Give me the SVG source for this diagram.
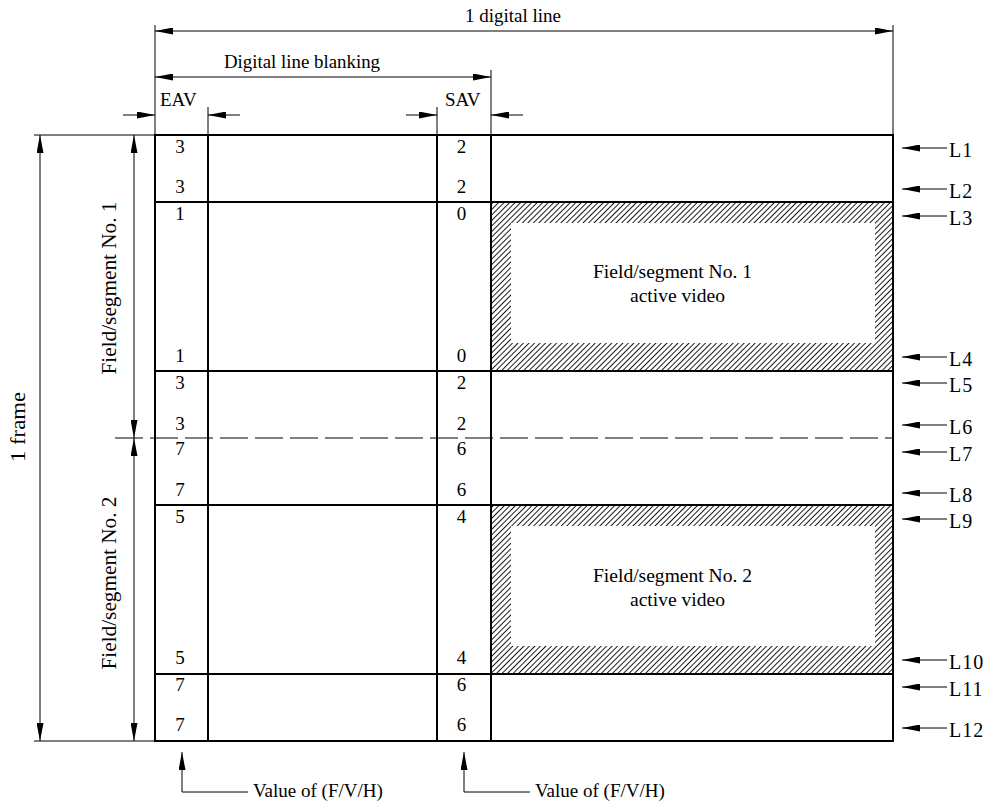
<svg xmlns="http://www.w3.org/2000/svg" width="990" height="805" viewBox="0 0 990 805">
<style>
  text { font-family: "Liberation Serif", "Times New Roman", serif; fill: #000; }
  .t { font-size: 19px; }
  .num { font-size: 19px; text-anchor: middle; }
  .lab { font-size: 20px; letter-spacing: 1px; }
  .rot { font-size: 21px; text-anchor: middle; }
  .thick { stroke: #000; stroke-width: 2; fill: none; }
  .thin { stroke: #000; stroke-width: 1; fill: none; }
  .dim { stroke: #000; stroke-width: 1; fill: none; marker-end: url(#ah); }
  .dim2 { stroke: #000; stroke-width: 1; fill: none; marker-start: url(#ah); marker-end: url(#ah); }
  .hatch { fill: url(#hp); fill-rule: evenodd; stroke: none; }
</style>
<defs>
  <marker id="ah" viewBox="0 -3.5 18 7" refX="18" refY="0" markerWidth="18" markerHeight="7" markerUnits="userSpaceOnUse" orient="auto-start-reverse">
    <path d="M0,-3.5 L18,0 L0,3.5 z" fill="#000"/>
  </marker>
  <pattern id="hp" patternUnits="userSpaceOnUse" width="3.9" height="10" patternTransform="rotate(45)">
    <line x1="0.5" y1="0" x2="0.5" y2="10" stroke="#000" stroke-width="0.9"/>
  </pattern>
</defs>
<rect width="990" height="805" fill="#fff"/>

<g id="active-video-1">
  <path class="hatch" d="M491,202 H893 V371 H491 Z M511,223 V343 H875 V223 Z"/>
  <text class="t" x="593" y="278" textLength="159" lengthAdjust="spacingAndGlyphs">Field/segment No. 1</text>
  <text class="t" x="630" y="302" textLength="95" lengthAdjust="spacingAndGlyphs">active video</text>
</g>
<g id="active-video-2">
  <path class="hatch" d="M491,505 H893 V674 H491 Z M511,526 V646 H875 V526 Z"/>
  <text class="t" x="593" y="582" textLength="159" lengthAdjust="spacingAndGlyphs">Field/segment No. 2</text>
  <text class="t" x="630" y="606" textLength="95" lengthAdjust="spacingAndGlyphs">active video</text>
</g>

<g id="frame">
  <rect class="thick" x="155" y="135" width="738" height="606"/>
  <line class="thick" x1="208" y1="135" x2="208" y2="741"/>
  <line class="thick" x1="437" y1="135" x2="437" y2="741"/>
  <line class="thick" x1="491" y1="135" x2="491" y2="741"/>
  <line class="thick" x1="155" y1="202" x2="893" y2="202"/>
  <line class="thick" x1="155" y1="371" x2="893" y2="371"/>
  <line class="thick" x1="155" y1="505" x2="893" y2="505"/>
  <line class="thick" x1="155" y1="674" x2="893" y2="674"/>
  <line class="thin" x1="115" y1="438" x2="893" y2="438" stroke-dasharray="28 7"/>
</g>

<g id="eav-values">
  <text class="num" x="180" y="153">3</text>
  <text class="num" x="180" y="193">3</text>
  <text class="num" x="180" y="220">1</text>
  <text class="num" x="180" y="362">1</text>
  <text class="num" x="180" y="389">3</text>
  <text class="num" x="180" y="430">3</text>
  <text class="num" x="180" y="455">7</text>
  <text class="num" x="180" y="496">7</text>
  <text class="num" x="180" y="523">5</text>
  <text class="num" x="180" y="664">5</text>
  <text class="num" x="180" y="691">7</text>
  <text class="num" x="180" y="731">7</text>
</g>
<g id="sav-values">
  <text class="num" x="461.5" y="153">2</text>
  <text class="num" x="461.5" y="193">2</text>
  <text class="num" x="461.5" y="220">0</text>
  <text class="num" x="461.5" y="362">0</text>
  <text class="num" x="461.5" y="389">2</text>
  <text class="num" x="461.5" y="430">2</text>
  <text class="num" x="461.5" y="455">6</text>
  <text class="num" x="461.5" y="496">6</text>
  <text class="num" x="461.5" y="523">4</text>
  <text class="num" x="461.5" y="664">4</text>
  <text class="num" x="461.5" y="691">6</text>
  <text class="num" x="461.5" y="731">6</text>
</g>

<g id="extension-lines">
  <line class="thin" x1="155" y1="25" x2="155" y2="135"/>
  <line class="thin" x1="893" y1="25" x2="893" y2="135"/>
  <line class="thin" x1="491" y1="70" x2="491" y2="135"/>
  <line class="thin" x1="208" y1="107" x2="208" y2="135"/>
  <line class="thin" x1="437" y1="107" x2="437" y2="135"/>
  <line class="thin" x1="34" y1="135" x2="155" y2="135"/>
  <line class="thin" x1="34" y1="741" x2="155" y2="741"/>
</g>

<g id="connectors">
  <line class="dim2" x1="155" y1="31" x2="893" y2="31"/>
  <line class="dim2" x1="155" y1="77" x2="491" y2="77"/>
  <line class="dim" x1="123" y1="115" x2="155" y2="115"/>
  <line class="dim" x1="240" y1="115" x2="208" y2="115"/>
  <line class="dim" x1="406" y1="115" x2="437" y2="115"/>
  <line class="dim" x1="523" y1="115" x2="491" y2="115"/>
  <line class="dim2" x1="40" y1="135" x2="40" y2="741"/>
  <line class="dim2" x1="134" y1="135" x2="134" y2="438"/>
  <line class="dim2" x1="134" y1="438" x2="134" y2="741"/>
  <path class="dim" d="M248,792 H182 V752"/>
  <path class="dim" d="M530,792 H464 V752"/>
  <line class="dim" x1="947" y1="148" x2="902" y2="148"/>
  <line class="dim" x1="947" y1="189" x2="902" y2="189"/>
  <line class="dim" x1="947" y1="216" x2="902" y2="216"/>
  <line class="dim" x1="947" y1="357" x2="902" y2="357"/>
  <line class="dim" x1="947" y1="383" x2="902" y2="383"/>
  <line class="dim" x1="947" y1="425" x2="902" y2="425"/>
  <line class="dim" x1="947" y1="452" x2="902" y2="452"/>
  <line class="dim" x1="947" y1="493" x2="902" y2="493"/>
  <line class="dim" x1="947" y1="519" x2="902" y2="519"/>
  <line class="dim" x1="947" y1="660" x2="902" y2="660"/>
  <line class="dim" x1="947" y1="687" x2="902" y2="687"/>
  <line class="dim" x1="947" y1="728" x2="902" y2="728"/>
</g>

<g id="dimension-labels">
  <text class="t" x="465" y="22">1 digital line</text>
  <text class="t" x="224" y="68" textLength="156" lengthAdjust="spacingAndGlyphs">Digital line blanking</text>
  <text class="t" x="160" y="106">EAV</text>
  <text class="t" x="445" y="106">SAV</text>
  <text class="rot" transform="translate(25,427) rotate(-90)" textLength="70" lengthAdjust="spacingAndGlyphs">1 frame</text>
  <text class="rot" transform="translate(116,288) rotate(-90)" textLength="173" lengthAdjust="spacingAndGlyphs">Field/segment No. 1</text>
  <text class="rot" transform="translate(116,583) rotate(-90)" textLength="173" lengthAdjust="spacingAndGlyphs">Field/segment No. 2</text>
  <text class="t" x="253" y="797">Value of (F/V/H)</text>
  <text class="t" x="535" y="797">Value of (F/V/H)</text>
</g>

<g id="line-labels">
  <text class="lab" x="949" y="157">L1</text>
  <text class="lab" x="949" y="198">L2</text>
  <text class="lab" x="949" y="225">L3</text>
  <text class="lab" x="949" y="366">L4</text>
  <text class="lab" x="949" y="392">L5</text>
  <text class="lab" x="949" y="434">L6</text>
  <text class="lab" x="949" y="461">L7</text>
  <text class="lab" x="949" y="502">L8</text>
  <text class="lab" x="949" y="528">L9</text>
  <text class="lab" x="949" y="669">L10</text>
  <text class="lab" x="949" y="696">L11</text>
  <text class="lab" x="949" y="737">L12</text>
</g>
</svg>
